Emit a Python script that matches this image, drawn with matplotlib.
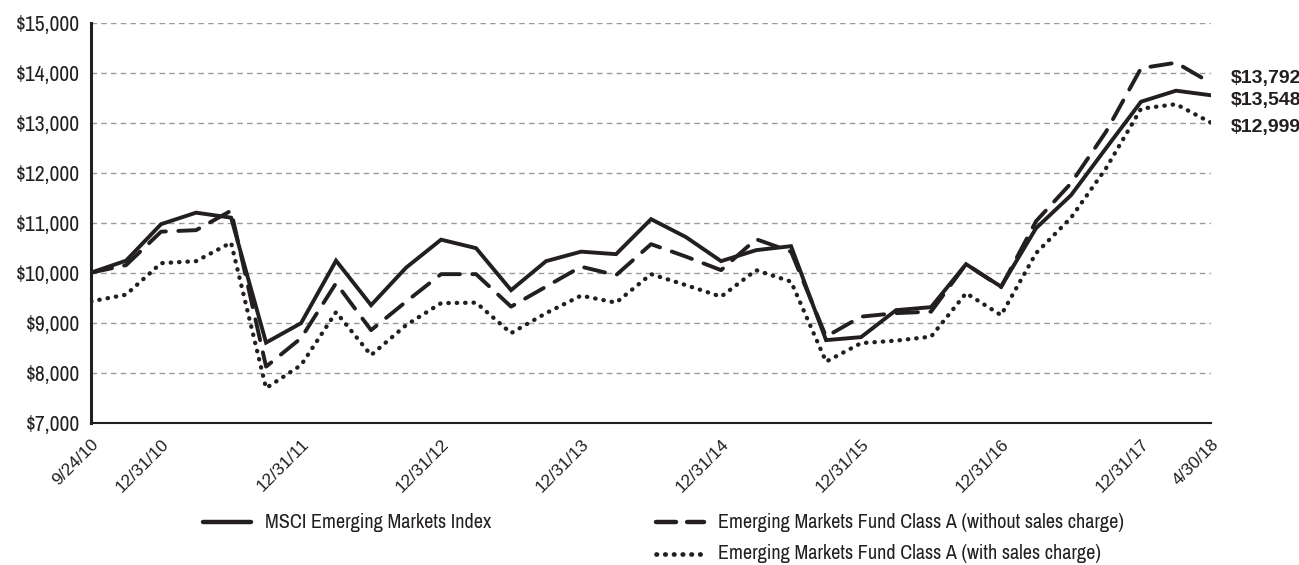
import numpy as np
import matplotlib.pyplot as plt
from matplotlib.lines import Line2D

plt.rcParams['font.family'] = ['Liberation Sans Narrow', 'Archivo Narrow', 'Liberation Sans', 'DejaVu Sans']

# 9/24/10, 9/30/10, then quarter ends 12/31/10 .. 3/31/18, then 4/30/18
n_points = 33
tick_pos = [0, 2, 6, 10, 14, 18, 22, 26, 30, 32]
tick_labels = ['9/24/10', '12/31/10', '12/31/11', '12/31/12', '12/31/13',
               '12/31/14', '12/31/15', '12/31/16', '12/31/17', '4/30/18']

msci = [10000, 10240, 10970, 11200, 11100, 8600, 8990, 10240, 9350, 10100,
        10660, 10490, 9650, 10230, 10420, 10370, 11070, 10710, 10230, 10450,
        10530, 8650, 8710, 9250, 9310, 10170, 9720, 10890, 11550, 12490,
        13420, 13640, 13548]
no_load = [10000, 10150, 10820, 10850, 11240, 8120, 8690, 9790, 8850, 9420,
           9970, 9970, 9320, 9720, 10120, 9950, 10570, 10320, 10050, 10670,
           10420, 8720, 9120, 9190, 9220, 10170, 9710, 11030, 11790, 12820,
           14090, 14200, 13792]
with_load = [9425, 9560, 10190, 10230, 10600, 7690, 8150, 9210, 8350, 8950,
             9390, 9400, 8790, 9190, 9540, 9400, 9970, 9750, 9520, 10050,
             9820, 8220, 8590, 8640, 8720, 9590, 9150, 10390, 11100, 12090,
             13280, 13370, 12999]
end_labels = ['$13,792', '$13,548', '$12,999']
end_label_y = [13890, 13450, 12910]

ink = '#231f20'
x = np.arange(n_points)

fig = plt.figure(figsize=(12.99, 5.65), dpi=100)
ax = fig.add_axes([0.0701, 0.2520, 0.8622, 0.7078])

ax.plot(x, msci, color=ink, lw=2.8, solid_joinstyle='miter')
ax.plot(x, no_load, color=ink, lw=2.8, linestyle=(0, (5.5, 3.2)), dash_capstyle='round')
ax.plot(x, with_load, color=ink, lw=3.1, linestyle=(0, (0.1, 1.85)), dash_capstyle='round')

ax.set_xlim(0, 32)
ax.set_ylim(7000, 15000)
ax.set_yticks(range(7000, 15001, 1000))
ax.set_yticklabels(['${:,}'.format(v) for v in range(7000, 15001, 1000)], fontsize=15.5, color=ink)
ax.set_xticks(tick_pos)
ax.set_xticklabels(tick_labels, rotation=45, ha='right', rotation_mode='anchor', fontsize=12.5,
                   color=ink, family=['Liberation Sans', 'DejaVu Sans'])
ax.tick_params(length=0, pad=8)
ax.tick_params(axis='x', pad=10)

for v in range(7000, 15001, 1000):
    ax.axhline(v, color='#9a9a9a', lw=1.0, linestyle=(0, (4, 3)), zorder=0)

for s in ['top', 'right']:
    ax.spines[s].set_visible(False)
ax.spines['left'].set_linewidth(2.2)
ax.spines['bottom'].set_linewidth(1.5)
ax.spines['left'].set_color(ink)
ax.spines['bottom'].set_color(ink)

for lab, yv in zip(end_labels, end_label_y):
    ax.text(32.55, yv, lab, fontsize=14, fontweight='bold', color=ink,
            family=['Liberation Sans', 'DejaVu Sans'],
            va='center', ha='left', clip_on=False)

# legend drawn by hand
legend_items = [
    (0.1563, 0.0761, 'MSCI Emerging Markets Index', '-', 3.2),
    (0.5050, 0.0761, 'Emerging Markets Fund Class A (without sales charge)', (0, (4.5, 2.5)), 3.2),
    (0.5050, 0.0195, 'Emerging Markets Fund Class A (with sales charge)', (0, (0.1, 1.75)), 3.4),
]
for lx, ly, txt, ls, lw in legend_items:
    fig.add_artist(Line2D([lx, lx + 0.037], [ly, ly], color=ink, lw=lw,
                          linestyle=ls, dash_capstyle='round', solid_capstyle='round'))
    fig.text(lx + 0.0477, ly, txt, fontsize=14.5, color=ink, va='center', ha='left')

fig.savefig('out.png', dpi=100)
